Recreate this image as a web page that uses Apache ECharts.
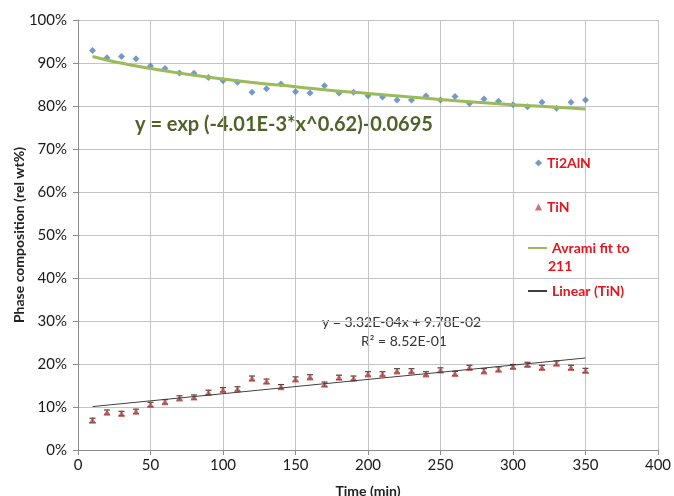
<!DOCTYPE html>
<html><head><meta charset="utf-8">
<script src="https://cdn.jsdelivr.net/npm/echarts@6/dist/echarts.min.js"></script>
<style>html,body{margin:0;padding:0;background:#fff}#c{width:674px;height:496px}</style>
</head><body><div id="c"></div>
<script>
// Time (min)
var times = [10,20,30,40,50,60,70,80,90,100,110,120,130,140,150,160,170,180,190,200,210,220,230,240,250,260,270,280,290,300,310,320,330,340,350];
// Ti2AlN phase composition (%)
var ti2aln = [92.9,91.2,91.5,91.0,89.3,88.7,87.7,87.6,86.6,85.9,85.5,83.2,84.0,85.1,83.3,83.0,84.7,83.0,83.2,82.4,82.1,81.4,81.4,82.3,81.4,82.2,80.6,81.6,81.1,80.3,79.8,80.9,79.5,80.9,81.4];
// TiN phase composition (%)
var tin = [6.9,8.8,8.5,9.0,10.6,11.2,12.1,12.3,13.4,14.0,14.2,16.7,16.0,14.7,16.5,17.0,15.3,16.9,16.7,17.7,17.7,18.4,18.4,17.7,18.6,17.8,19.2,18.4,18.8,19.4,19.9,19.2,20.2,19.2,18.5];
// TiN error (+/- %)
var tinErr = [0.5,0.5,0.5,0.5,0.5,0.5,0.5,0.5,0.5,0.5,0.5,0.5,0.5,0.5,0.5,0.5,0.5,0.5,0.5,0.5,0.5,0.5,0.5,0.5,0.5,0.5,0.5,0.5,0.5,0.5,0.5,0.5,0.5,0.5,0.5];
// Avrami fit curve
var avramiX = [10,25,50,75,100,125,150,175,200,225,250,275,300,325,350];
var avramiY = [91.5,90.3,88.7,87.4,86.3,85.3,84.5,83.6,82.9,82.2,81.5,80.9,80.3,79.8,79.3];
// Linear trend (TiN), end points
var linX = [10,350];
var linY = [10.1,21.4];
var xTicks = [0,50,100,150,200,250,300,350,400];
var yTicks = [0,10,20,30,40,50,60,70,80,90,100];

var FONT = 'Lato';
function zip(a,b){return a.map(function(v,i){return [v,b[i]];});}

var chart = echarts.init(document.getElementById('c'), null, {renderer:'canvas'});
var legendText = {color:'#e8141c', fontWeight:'bold', fontSize:14, fontFamily:FONT};
chart.setOption({
  animation:false,
  grid:{left:78, right:16, top:20, bottom:46, containLabel:false, outerBoundsMode:'none'},
  xAxis:{type:'value', min:xTicks[0], max:xTicks[xTicks.length-1], interval:50,
    name:'Time (min)', nameLocation:'middle', nameGap:34, nameMoveOverlap:false,
    nameTextStyle:{fontFamily:FONT, fontWeight:'bold', fontSize:14, color:'#222'},
    axisLine:{lineStyle:{color:'#8c8c8c'}},
    axisTick:{show:true, length:5, lineStyle:{color:'#8c8c8c'}},
    axisLabel:{fontFamily:FONT, fontSize:15, color:'#1a1a1a', margin:8},
    splitLine:{show:true, lineStyle:{color:'#c4c4c4', width:1}}},
  yAxis:{type:'value', min:yTicks[0], max:yTicks[yTicks.length-1], interval:10,
    name:'Phase composition (rel wt%)', nameLocation:'middle', nameGap:52, nameMoveOverlap:false,
    nameTextStyle:{fontFamily:FONT, fontWeight:'bold', fontSize:14, color:'#222'},
    axisLine:{show:true, lineStyle:{color:'#8c8c8c'}},
    axisTick:{show:true, length:5, lineStyle:{color:'#8c8c8c'}},
    axisLabel:{fontFamily:FONT, fontSize:15, color:'#1a1a1a', margin:11, formatter:'{value}%'},
    splitLine:{show:true, lineStyle:{color:'#c4c4c4', width:1}}},
  legend:[
    {left:530, top:151, itemWidth:7, itemHeight:7, data:[{name:'Ti2AlN', icon:'diamond'}], textStyle:legendText, selectedMode:false},
    {left:530, top:195, itemWidth:7, itemHeight:7, data:[{name:'TiN', icon:'triangle'}], textStyle:legendText, selectedMode:false},
    {left:523, top:236, itemWidth:19, itemHeight:2, data:[{name:'Avrami fit to 211', icon:'rect'}], formatter:function(){return 'Avrami fit to';}, textStyle:legendText, selectedMode:false},
    {left:523, top:279, itemWidth:19, itemHeight:2, data:[{name:'Linear (TiN)', icon:'rect'}], textStyle:legendText, selectedMode:false}
  ],
  series:[
    {name:'Ti2AlN', type:'scatter', symbol:'diamond', symbolSize:7, itemStyle:{color:'#4f81bd'}, data:zip(times, ti2aln), z:3},
    {name:'err', type:'custom', silent:true, z:2,
      data: times.map(function(t,i){return [t, tin[i]-tinErr[i], tin[i]+tinErr[i]];}),
      renderItem:function(params, api){
        var lo = api.coord([api.value(0), api.value(1)]);
        var hi = api.coord([api.value(0), api.value(2)]);
        var w = 3;
        return {type:'group', children:[
          {type:'line', shape:{x1:lo[0], y1:lo[1], x2:hi[0], y2:hi[1]}, style:{stroke:'#222', lineWidth:1}},
          {type:'line', shape:{x1:lo[0]-w, y1:lo[1], x2:lo[0]+w, y2:lo[1]}, style:{stroke:'#222', lineWidth:1}},
          {type:'line', shape:{x1:hi[0]-w, y1:hi[1], x2:hi[0]+w, y2:hi[1]}, style:{stroke:'#222', lineWidth:1}}
        ]};
      }},
    {name:'TiN', type:'scatter', symbol:'triangle', symbolSize:7, itemStyle:{color:'#c0504d'}, data:zip(times, tin), z:3},
    {name:'Avrami fit to 211', type:'line', smooth:true, showSymbol:false, symbol:'none', lineStyle:{color:'#9bbb59', width:3}, itemStyle:{color:'#9bbb59'}, data:zip(avramiX, avramiY), z:4},
    {name:'Linear (TiN)', type:'line', showSymbol:false, symbol:'none', lineStyle:{color:'#404040', width:1}, itemStyle:{color:'#404040'}, data:zip(linX, linY), z:4}
  ],
  graphic:[
    {type:'text', left:548, top:259, style:{text:'211', fill:'#e8141c', font:'bold 14px '+FONT}},
    {type:'text', left:135, top:115, style:{text:'y = exp (-4.01E-3*x^0.62)-0.0695', fill:'#4f6228', font:'bold 20px '+FONT}},
    {type:'text', left:322, top:315, style:{text:'y = 3.32E-04x + 9.78E-02', fill:'#333', font:'14px '+FONT}},
    {type:'text', left:361, top:334, style:{text:'R\u00b2 = 8.52E-01', fill:'#333', font:'14px '+FONT}}
  ]
});
</script></body></html>
